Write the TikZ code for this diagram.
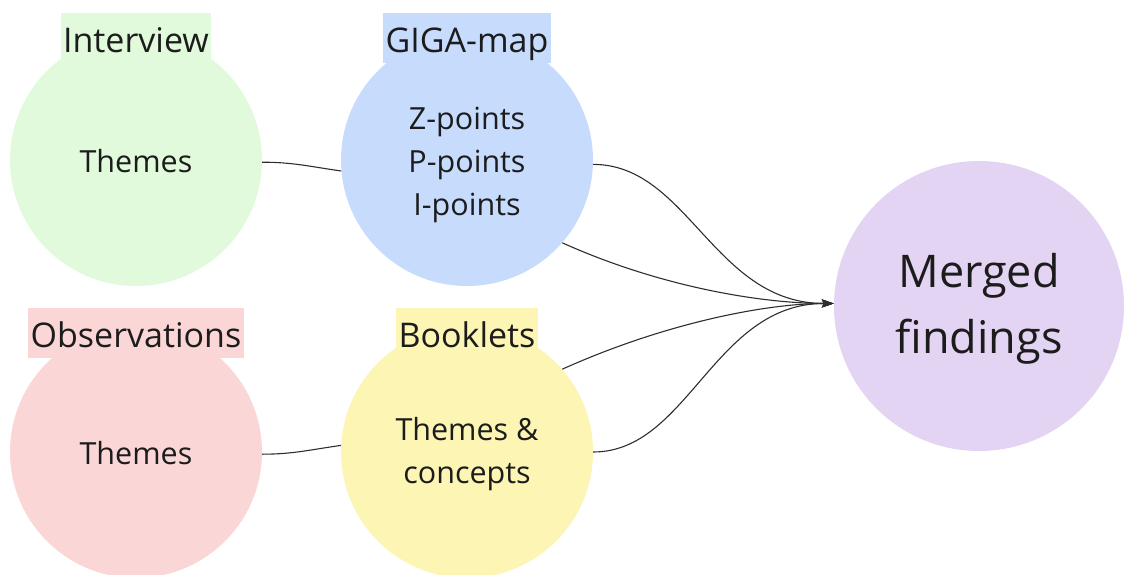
\documentclass[tikz,border=0pt]{standalone}
\usepackage{fontspec}
\setmainfont{Open Sans}
\usetikzlibrary{arrows.meta}
\definecolor{intgreen}{HTML}{E0FADB}
\definecolor{gigablue}{HTML}{C7DBFD}
\definecolor{obsred}{HTML}{FAD6D6}
\definecolor{bookyellow}{HTML}{FDF5B4}
\definecolor{mergepurple}{HTML}{E3D4F3}
\definecolor{inkdark}{HTML}{1C1C1C}
\definecolor{wiregray}{HTML}{2E2E2E}
\tikzset{
  blob/.style={circle, inner sep=0pt, minimum size=252pt, draw=none},
  inside/.style={text=inkdark, align=center, inner sep=0pt,
    font=\fontsize{30.5}{43}\selectfont},
  tag/.style={rectangle, inner xsep=2.5pt, inner ysep=0pt, minimum height=50pt,
    text height=31pt, text depth=2pt, text=inkdark,
    font=\fontsize{34}{40}\selectfont},
  wire/.style={draw=wiregray, line width=1.1pt},
  feed/.style={wire, -{Stealth[length=12pt,width=8pt,inset=2pt]}},
}
\begin{document}
\begin{tikzpicture}[x=1pt,y=1pt]
  \useasboundingbox (0,0) rectangle (1135,574);

  % source circles
  \node[blob, fill=intgreen]   (g)  at (136,414) {};
  \node[blob, fill=gigablue]   (b)  at (467,414) {};
  \node[blob, fill=obsred]     (r)  at (136,122) {};
  \node[blob, fill=bookyellow] (yl) at (467,122) {};

  % result circle
  \node[blob, fill=mergepurple, minimum size=290pt] (p) at (979,268) {};

  % circle contents
  \node[inside] (gx) at (136,413) {Themes};
  \node[inside] (bx) at (467,409) {Z-points\\P-points\\I-points};
  \node[inside] (rx) at (136,121) {Themes};
  \node[inside] (yx) at (467,120) {Themes \&\\concepts};
  \node[inside, font=\fontsize{45}{66}\selectfont] (px) at (979,265) {Merged\\findings};

  % titles over the circles
  \node[tag, fill=intgreen]   (gt) at (136,536) {Interview};
  \node[tag, fill=gigablue]   (bt) at (467,536) {GIGA-map};
  \node[tag, fill=obsred]     (rt) at (136,241) {Observations};
  \node[tag, fill=bookyellow] (yt) at (467,241) {Booklets};

  % links between the sources
  \draw[wire] (g.-1) to[out=0, in=172] (b.185);
  \draw[wire] (r.-1) to[out=0, in=188] (yl.177);

  % everything flows into the merged findings
  \draw[feed] (b.-2)  .. controls +(95,0) and +(-120,0) .. (p.179);
  \draw[feed] (b.-41) .. controls +(100,-45) and +(-70,0) .. (p.179);
  \draw[feed] (yl.41) .. controls +(100,45) and +(-70,0) .. (p.179);
  \draw[feed] (yl.0)  .. controls +(95,0) and +(-120,0) .. (p.179);
\end{tikzpicture}
\end{document}
